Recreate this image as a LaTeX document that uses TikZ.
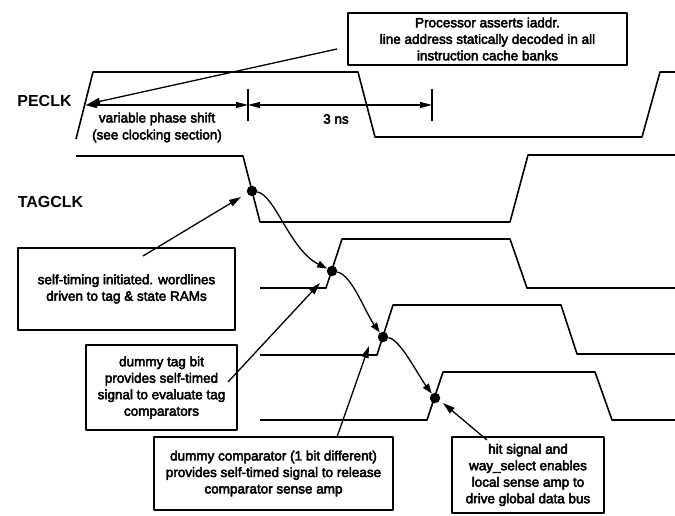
\documentclass[tikz,border=0pt]{standalone}
\usepackage{fontspec}
\setmainfont{Liberation Sans}
\newfontfamily\boxfont{Liberation Sans}
\newcommand\heavytext{\special{pdf:literal direct 2 Tr 0.45 w}}
\newcommand\plaintext{\special{pdf:literal direct 0 Tr}}
\usetikzlibrary{arrows.meta}
\begin{document}
\begin{tikzpicture}[x=1pt,y=-1pt,line join=round,
  wave/.style={line width=1.6pt},
  box/.style={draw,line width=1.4pt,inner sep=0pt,align=center,
    font=\boxfont\fontsize{13.5}{16.5}\selectfont\heavytext,
    execute at end node=\plaintext},
  txt/.style={inner sep=0pt,align=center,font=\boxfont\fontsize{13.5}{17}\selectfont\heavytext,
    execute at end node=\plaintext},
  lbl/.style={inner sep=0pt,font=\bfseries\fontsize{16}{19}\selectfont},
  dot/.style={circle,fill,inner sep=0pt,minimum size=10.5pt},
  ptr/.style={line width=1.3pt,-{Triangle[length=12pt,width=7pt]}},
  flow/.style={line width=1.3pt,-{Triangle[length=10pt,width=7pt]}},
  dimarrow/.style={line width=1.2pt,{Triangle[length=12pt,width=6pt]}-{Triangle[length=12pt,width=6pt]}},
  tick/.style={line width=1.1pt}]
\useasboundingbox (0,0) rectangle (675,516);

% labels
\node[lbl] (peclk) at (44.5,101) {PECLK};
\node[lbl] (tagclk) at (50.5,202) {TAGCLK};

% waveforms
\draw[wave] (76,139) -- (93,72) -- (358,72) -- (375,137) -- (642,137) -- (660,72) -- (675,72);
\draw[wave] (76,156) -- (243,156) -- (260,222) -- (510,222) -- (528,155) -- (675,155);
\draw[wave] (260,288) -- (326,288) -- (342,239) -- (510,239) -- (527,288) -- (675,288);
\draw[wave] (260,355) -- (377,355) -- (393,305) -- (561,305) -- (577,354) -- (675,354);
\draw[wave] (260,420) -- (427,420) -- (443,372) -- (595,372) -- (612,420) -- (675,420);

% dimension lines
\coordinate (dimL) at (85,105);
\coordinate (dimM) at (248,105);
\coordinate (dimR) at (432,105);
\draw[dimarrow] (dimL) -- (dimM);
\draw[dimarrow] (dimM) -- (dimR);
\draw[tick] (248,89) -- (248,121);
\draw[tick] (432,89) -- (432,121);
\node[txt] (phase) at (157,127.5) {variable phase shift\\(see clocking section)};
\node[txt] (ns) at (336,119) {3 ns};

% dots
\node[dot] (d1) at (252,191) {};
\node[dot] (d2) at (332,271) {};
\node[dot] (d3) at (383,337) {};
\node[dot] (d4) at (435,398) {};

% causal curves
\draw[flow] (d1) .. controls +(23,4) and +(-42,-21) .. (d2);
\draw[flow] (d2) .. controls +(20,4) and +(-18,-25) .. (d3);
\draw[flow] (d3) .. controls +(17,2) and +(-17,-23) .. (d4);

% boxes
\node[box,minimum width=279pt,minimum height=52pt] (proc) at (487.5,39)
  {Processor asserts iaddr.\\line address statically decoded in all\\instruction cache banks};
\node[box,minimum width=217pt,minimum height=82pt] (self) at (126.5,289)
  {self-timing initiated. wordlines\\driven to tag \& state RAMs};
\node[box,minimum width=151pt,minimum height=85pt] (tag) at (161.5,387.5)
  {dummy tag bit\\provides self-timed\\signal to evaluate tag\\comparators};
\node[box,minimum width=239pt,minimum height=73pt] (comp) at (273.5,473.5)
  {dummy comparator (1 bit different)\\provides self-timed signal to release\\comparator sense amp};
\node[box,minimum width=152pt,minimum height=76pt] (hit) at (528,475)
  {hit signal and\\way\_select enables\\local sense amp to\\drive global data bus};

% pointer arrows
\coordinate (procS) at (337,49);
\coordinate (procT) at (88,104);
\draw[ptr] (procS) -- (procT);
\coordinate (selfS) at (143,256);
\coordinate (selfT) at (241,197);
\draw[ptr] (selfS) -- (selfT);
\coordinate (tagS) at (228,382);
\coordinate (tagT) at (320,283);
\draw[ptr] (tagS) -- (tagT);
\coordinate (compS) at (337,437);
\coordinate (compT) at (369,346);
\draw[ptr] (compS) -- (compT);
\coordinate (hitS) at (487,440);
\coordinate (hitT) at (443,403);
\draw[ptr] (hitS) -- (hitT);
\end{tikzpicture}
\end{document}
